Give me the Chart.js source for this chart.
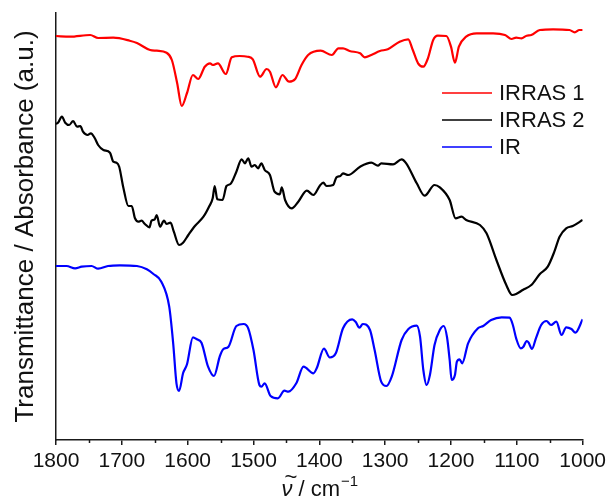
<!DOCTYPE html>
<html>
<head>
<meta charset="utf-8">
<script src="https://cdn.jsdelivr.net/npm/chart.js@4.4.1/dist/chart.umd.min.js"></script>
<style>
  html, body { margin: 0; padding: 0; background: #ffffff; }
  canvas { display: block; }
</style>
</head>
<body>
<canvas id="spectra" width="610" height="501"></canvas>
<script>
// Offset spectra: wavenumber (cm^-1) and stacked intensity (a.u.)
const seriesNames = ['IRRAS 1', 'IRRAS 2', 'IR'];
const seriesColors = ['#ff0000', '#000000', '#0000ff'];

const irras1Wn = [1800,1779,1748,1736,1713,1688,1677,1657,1647,1632,1624,1616,1609,1601,1592,1584,1574,1566,1562,1554,1542,1533,1521,1509,1501,1490,1480,1475,1466,1456,1446,1437,1427,1417,1398,1381,1371,1364,1354,1338,1331,1321,1308,1296,1278,1265,1258,1250,1242,1235,1227,1220,1207,1200,1194,1188,1177,1161,1136,1118,1108,1101,1093,1085,1078,1065,1045,1020,1012,1005,1000];
const irras1Val = [404,403.3,405,402,402.3,399.3,397,390,389.3,387.3,380,357,334,347,365,361,373.3,376.7,375,376.7,366,382.7,384,383.3,380.7,363.3,371,368.3,352.7,365,358.3,360.7,375,385,389.3,385,391.7,391.7,389,386.7,382.7,385,389,390.7,398.3,400.7,390,376.7,373.3,381.7,400,404.3,404,393.3,377.3,393.3,403.3,406.7,406.7,405,401,402.3,401.7,404.3,405,410,410.7,410,407.7,410,410];

const irras2Wn = [1800,1797,1791,1786,1780,1774,1768,1763,1759,1752,1747,1741,1736,1728,1718,1713,1708,1704,1698,1690,1685,1680,1675,1670,1665,1658,1655,1650,1647,1642,1636,1632,1626,1621,1613,1607,1599,1589,1576,1567,1562,1559,1555,1547,1541,1535,1526,1518,1513,1508,1503,1498,1493,1488,1483,1475,1468,1460,1457,1452,1442,1432,1419,1409,1399,1394,1389,1379,1374,1368,1364,1356,1338,1321,1311,1306,1288,1275,1268,1252,1240,1225,1217,1202,1193,1184,1177,1156,1146,1131,1116,1107,1101,1091,1078,1065,1053,1043,1035,1025,1015,1000];
const irras2Val = [316,317.3,323.3,317.3,315,319,313.3,314,308.3,305,306.7,301.7,295,290,287.3,278.3,277.3,273.3,253.3,234,234,221.7,218.3,219.3,216,212.7,219.3,220.7,225,213.3,219.3,216,217.3,208.3,195,197.3,205,214,223.3,234,241.7,254,240.7,240,254,256,268.3,280.7,276.7,281.7,273.3,275,271.7,276.7,270,265,248.3,245.7,252.7,240,231.7,238.3,249.3,245,254.5,257.3,254,255,262.7,264,266.7,265,273.3,277.3,274.3,276.7,275.7,280.7,276.7,256.7,244.3,255,252.7,240,221.7,223.3,220,215,206.7,180,155,145,146,150,155,166,173.3,188.3,203.3,211.7,214,220];

const irWn = [1800,1784,1771,1761,1746,1736,1721,1703,1677,1662,1652,1640,1628,1622,1617,1613,1607,1601,1592,1586,1579,1569,1560,1551,1546,1538,1526,1515,1508,1500,1491,1488,1483,1474,1463,1453,1447,1435,1424,1409,1404,1393,1384,1375,1364,1350,1345,1339,1334,1323,1316,1306,1298,1290,1275,1265,1252,1247,1242,1237,1232,1225,1217,1211,1206,1202,1199,1194,1191,1187,1183,1174,1159,1151,1139,1123,1111,1106,1101,1094,1090,1085,1082,1077,1071,1063,1055,1048,1040,1032,1025,1017,1011,1000];
const irVal = [174,174,171.7,173.3,174,171.3,174,174.7,174,170.7,166,158.3,133.3,96.7,56.7,49,66.7,75.7,102.7,100.7,97.3,73.3,64,84,90.7,93.3,114,116,111.7,90,55,53.3,56.7,44,41.7,49.3,48.3,56.7,73.3,66.7,71.7,91.3,82.5,86.7,111.7,120.7,118.3,112.3,116,110,90,58.3,54,63.3,100,110.7,114.3,103.3,70,55,65,95,110,114,102.7,80,60,65,78.3,80.7,76.7,96.7,111.7,114,120,122.7,122.3,115,101.7,91.7,93.3,99,97.3,91,101.7,115,119,115,118.3,105,112.7,111,107.3,120.7];

const xTickValues = [1800,1700,1600,1500,1400,1300,1200,1100,1000];
const xMinorTickValues = [1750,1650,1550,1450,1350,1250,1150,1050];

const toPoints = (wn, val) => wn.map((w, i) => ({ x: w, y: val[i] }));
const seriesData = [
  toPoints(irras1Wn, irras1Val),
  toPoints(irras2Wn, irras2Val),
  toPoints(irWn, irVal)
];

const FONT = 'Arial, "Liberation Sans", sans-serif';
const AXIS_COLOR = '#1a1a1a';

// Minor ticks, in-plot legend and the wavenumber axis title
const decorations = {
  id: 'decorations',
  afterDraw(chart) {
    const ctx = chart.ctx;
    const xs = chart.scales.x;
    const area = chart.chartArea;
    ctx.save();

    // minor tick marks
    ctx.strokeStyle = AXIS_COLOR;
    ctx.lineWidth = 1.5;
    xMinorTickValues.forEach(v => {
      const px = Math.round(xs.getPixelForValue(v)) + 0.5;
      ctx.beginPath();
      ctx.moveTo(px, area.bottom);
      ctx.lineTo(px, area.bottom + 3);
      ctx.stroke();
    });

    // legend
    ctx.font = '22px ' + FONT;
    ctx.textBaseline = 'middle';
    ctx.textAlign = 'left';
    chart.data.datasets.forEach((ds, i) => {
      const y = 93 + i * 27;
      ctx.strokeStyle = ds.borderColor;
      ctx.lineWidth = 1.5;
      ctx.beginPath();
      ctx.moveTo(442, y);
      ctx.lineTo(492, y);
      ctx.stroke();
      ctx.fillStyle = '#111111';
      ctx.fillText(ds.label, 499, y + 0.5);
    });

    // x-axis title: italic nu with tilde, "/ cm^-1"
    const cx = (area.left + area.right) / 2;
    const base = 496;
    ctx.textBaseline = 'alphabetic';
    ctx.fillStyle = '#111111';
    const nuFont = 'italic 22px ' + FONT;
    const mainFont = '22px ' + FONT;
    const supFont = '15px ' + FONT;
    ctx.font = nuFont;
    const wNu = ctx.measureText('\u03bd').width;
    ctx.font = mainFont;
    const mid = ' / cm';
    const wMid = ctx.measureText(mid).width;
    ctx.font = supFont;
    const sup = '\u22121';
    const wSup = ctx.measureText(sup).width;
    let x = cx - (wNu + wMid + wSup) / 2;
    ctx.font = nuFont;
    ctx.fillText('\u03bd', x, base);
    ctx.font = mainFont;
    ctx.fillText('~', x + 3, base - 12);
    x += wNu;
    ctx.fillText(mid, x, base);
    x += wMid;
    ctx.font = supFont;
    ctx.fillText(sup, x + 1, base - 10);

    ctx.restore();
  }
};

new Chart(document.getElementById('spectra'), {
  type: 'line',
  data: {
    datasets: seriesData.map((pts, i) => ({
      label: seriesNames[i],
      data: pts,
      borderColor: seriesColors[i],
      borderWidth: 2.2,
      pointRadius: 0,
      fill: false,
      cubicInterpolationMode: 'monotone'
    }))
  },
  options: {
    responsive: false,
    animation: false,
    devicePixelRatio: 1,
    layout: { padding: { top: 13, right: 27, left: 0, bottom: 0 } },
    plugins: {
      legend: { display: false },
      tooltip: { enabled: false }
    },
    scales: {
      x: {
        type: 'linear',
        reverse: true,
        min: 1000,
        max: 1800,
        afterBuildTicks: (scale) => { scale.ticks = xTickValues.map(v => ({ value: v })); },
        afterFit: (scale) => { scale.height = 61; },
        ticks: {
          color: '#111111',
          font: { family: FONT, size: 21 },
          padding: 4,
          maxRotation: 0,
          autoSkip: false,
          callback: (v) => String(v)
        },
        grid: {
          drawOnChartArea: false,
          drawTicks: true,
          tickLength: 5,
          color: AXIS_COLOR,
          lineWidth: 1.5
        },
        border: { display: true, color: AXIS_COLOR, width: 1.5 }
      },
      y: {
        type: 'linear',
        min: 0,
        max: 427,
        afterFit: (scale) => { scale.width = 56; },
        ticks: { display: false },
        grid: { drawOnChartArea: false, drawTicks: false },
        border: { display: true, color: AXIS_COLOR, width: 1.5 },
        title: {
          display: true,
          text: 'Transmittance / Absorbance (a.u.)',
          color: '#111111',
          font: { family: FONT, size: 26 },
          padding: { top: 10, bottom: 0 }
        }
      }
    }
  },
  plugins: [decorations]
});
</script>
</body>
</html>
